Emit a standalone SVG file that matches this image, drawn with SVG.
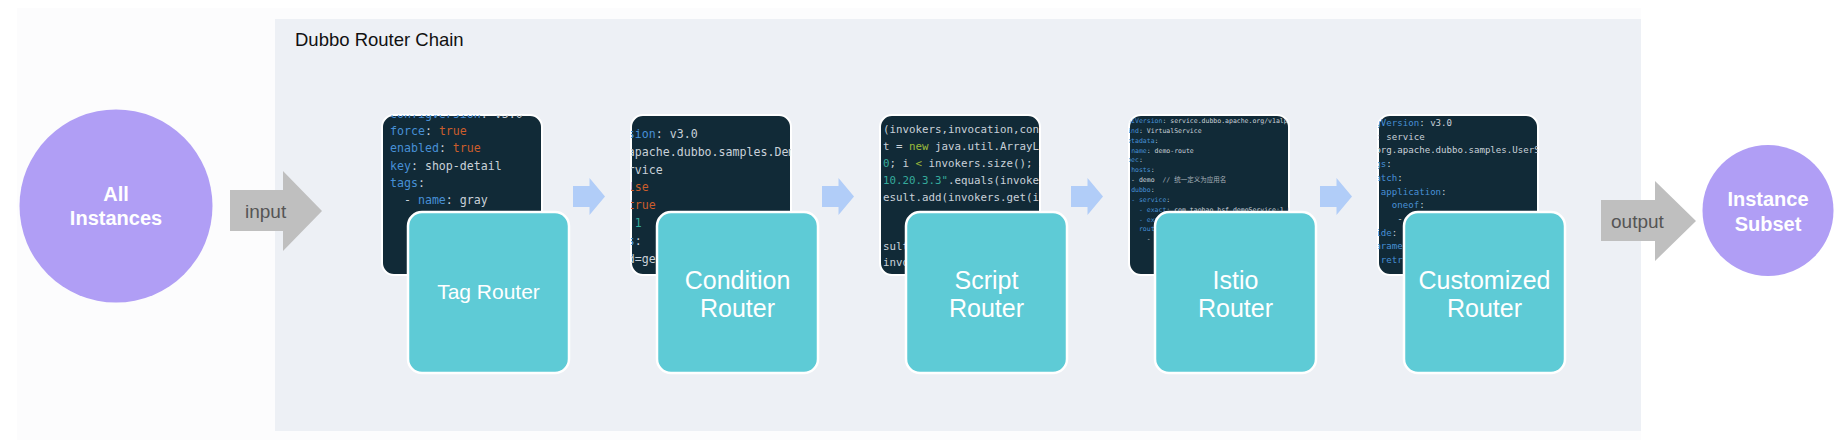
<svg xmlns="http://www.w3.org/2000/svg" width="1834" height="446" viewBox="0 0 1834 446">
<style>
.code{font-family:"DejaVu Sans Mono","Noto Sans CJK SC",monospace;fill:#c9d1d9}
.code text{white-space:pre}
.k{fill:#4790d6}.v{fill:#c9d1d9}.o{fill:#cb5d2c}.n{fill:#35ab9c}.g{fill:#9cba3a}.c{fill:#a7b0b8}
.panel{fill:#112a37;stroke:#ffffff;stroke-width:2}
.box{fill:#5ecbd6;stroke:#ffffff;stroke-width:2.5}
.blab{font-family:"Liberation Sans",Arial,sans-serif;fill:#ffffff;text-anchor:middle}
.clab{font-family:"Liberation Sans",Arial,sans-serif;fill:#ffffff;text-anchor:middle;font-weight:bold;font-size:20px}
.circ{fill:#b09ef5}
.big{fill:#bfbfbf}
.small{fill:#b1cdf8}
.alab{font-family:"Liberation Sans",Arial,sans-serif;fill:#555555;font-size:19px}
</style>
<defs>
<clipPath id="c1"><rect x="382" y="115" width="160" height="160" rx="12"/></clipPath>
<clipPath id="c2"><rect x="631" y="115" width="160" height="160" rx="12"/></clipPath>
<clipPath id="c3"><rect x="880" y="115" width="160" height="160" rx="12"/></clipPath>
<clipPath id="c4"><rect x="1129" y="115" width="160" height="160" rx="12"/></clipPath>
<clipPath id="c5"><rect x="1378" y="115" width="160" height="160" rx="12"/></clipPath>
</defs>
<rect x="17" y="8" width="1624" height="432" fill="#fcfcfd"/>
<g id="router-chain">
<rect x="275" y="19" width="1366" height="412" fill="#edf0f5"/>
<text x="295" y="46" font-family="'Liberation Sans',Arial,sans-serif" font-size="18.5" fill="#111111">Dubbo Router Chain</text>
</g>
<g id="all-instances">
<circle class="circ" cx="116" cy="206" r="96.5"/>
<text class="clab" x="116" y="201">All</text>
<text class="clab" x="116" y="225">Instances</text>
</g>
<g id="instance-subset">
<circle class="circ" cx="1768" cy="210.5" r="65.5"/>
<text class="clab" x="1768" y="206">Instance</text>
<text class="clab" x="1768" y="231">Subset</text>
</g>
<g id="tag-router">
<rect class="panel" x="382" y="115" width="160" height="160" rx="12"/>
<g clip-path="url(#c1)" class="code" font-size="11.6">
<text xml:space="preserve" x="390" y="117.7"><tspan class="k">configVersion</tspan>: v3.0</text>
<text xml:space="preserve" x="390" y="135"><tspan class="k">force</tspan>: <tspan class="o">true</tspan></text>
<text xml:space="preserve" x="390" y="152.3"><tspan class="k">enabled</tspan>: <tspan class="o">true</tspan></text>
<text xml:space="preserve" x="390" y="169.6"><tspan class="k">key</tspan>: shop-detail</text>
<text xml:space="preserve" x="390" y="186.9"><tspan class="k">tags</tspan>:</text>
<text xml:space="preserve" x="390" y="204.2">  - <tspan class="k">name</tspan>: gray</text>
</g>
<rect class="box" x="408" y="212" width="161" height="161" rx="14"/>
<text class="blab" x="488.5" y="299" font-size="21">Tag Router</text>
</g>
<g id="condition-router">
<rect class="panel" x="631" y="115" width="160" height="160" rx="12"/>
<g clip-path="url(#c2)" class="code" font-size="11.6">
<text xml:space="preserve" x="565" y="138"><tspan class="k">configVersion</tspan>: v3.0</text>
<text xml:space="preserve" x="565" y="155.8"><tspan class="k">key</tspan>: org.apache.dubbo.samples.DemoSe</text>
<text xml:space="preserve" x="565" y="173.6"><tspan class="k">scope</tspan>: service</text>
<text xml:space="preserve" x="565" y="191.4"><tspan class="k">force</tspan>: <tspan class="o">false</tspan></text>
<text xml:space="preserve" x="565" y="209.2"><tspan class="k">runtime</tspan>: <tspan class="o">true</tspan></text>
<text xml:space="preserve" x="565" y="227"><tspan class="k">priority</tspan>: <tspan class="n">1</tspan></text>
<text xml:space="preserve" x="565" y="244.8"><tspan class="k">conditions</tspan>:</text>
<text xml:space="preserve" x="565" y="262.6">  - method=getCom</text>
</g>
<rect class="box" x="657" y="212" width="161" height="161" rx="14"/>
<text class="blab" x="737.5" y="289" font-size="25">Condition</text>
<text class="blab" x="737.5" y="317" font-size="25">Router</text>
</g>
<g id="script-router">
<rect class="panel" x="880" y="115" width="160" height="160" rx="12"/>
<g clip-path="url(#c3)" class="code" font-size="10.8">
<text xml:space="preserve" x="883" y="133">(invokers,invocation,cont</text>
<text xml:space="preserve" x="883" y="150">t = <tspan class="g">new</tspan> java.util.ArrayLis</text>
<text xml:space="preserve" x="883" y="167"><tspan class="n">0</tspan>; i <tspan class="g">&lt;</tspan> invokers.size(); i</text>
<text xml:space="preserve" x="883" y="184"><tspan class="n">10.20.3.3"</tspan>.equals(invoker</text>
<text xml:space="preserve" x="883" y="201">esult.add(invokers.get(i)</text>
<text xml:space="preserve" x="883" y="250">sult;</text>
<text xml:space="preserve" x="883" y="266">invokers,</text>
</g>
<rect class="box" x="906" y="212" width="161" height="161" rx="14"/>
<text class="blab" x="986.5" y="289" font-size="25">Script</text>
<text class="blab" x="986.5" y="317" font-size="25">Router</text>
</g>
<g id="istio-router">
<rect class="panel" x="1129" y="115" width="160" height="160" rx="12"/>
<g clip-path="url(#c4)" class="code" font-size="6.5">
<text xml:space="preserve" x="1123.3" y="123"><tspan class="k">apiVersion</tspan>: service.dubbo.apache.org/v1alpha1</text>
<text xml:space="preserve" x="1123.3" y="132.9"><tspan class="k">kind</tspan>: VirtualService</text>
<text xml:space="preserve" x="1123.3" y="142.7"><tspan class="k">metadata</tspan>:</text>
<text xml:space="preserve" x="1123.3" y="152.6">  <tspan class="k">name</tspan>: demo-route</text>
<text xml:space="preserve" x="1123.3" y="162.4"><tspan class="k">spec</tspan>:</text>
<text xml:space="preserve" x="1123.3" y="172.3">  <tspan class="k">hosts</tspan>:</text>
<text xml:space="preserve" x="1123.3" y="182.1">  - demo  <tspan class="c">// 统一定义为应用名</tspan></text>
<text xml:space="preserve" x="1123.3" y="192">  <tspan class="k">dubbo</tspan>:</text>
<text xml:space="preserve" x="1123.3" y="201.8">  <tspan class="k">- service</tspan>:</text>
<text xml:space="preserve" x="1123.3" y="211.7">    <tspan class="k">- exact</tspan>: com.taobao.hsf.demoService:1.0.0</text>
<text xml:space="preserve" x="1123.3" y="221.5">    <tspan class="k">- exact</tspan>: com.taobao.hsf.demoService:2.0.0</text>
<text xml:space="preserve" x="1123.3" y="231.4">    <tspan class="k">routedetail</tspan>:</text>
<text xml:space="preserve" x="1123.3" y="241.2">      - <tspan class="k">name</tspan>: all</text>
</g>
<rect class="box" x="1155" y="212" width="161" height="161" rx="14"/>
<text class="blab" x="1235.5" y="289" font-size="25">Istio</text>
<text class="blab" x="1235.5" y="317" font-size="25">Router</text>
</g>
<g id="customized-router">
<rect class="panel" x="1378" y="115" width="160" height="160" rx="12"/>
<g clip-path="url(#c5)" class="code" font-size="9.1">
<text xml:space="preserve" x="1348" y="126"><tspan class="k">configVersion</tspan>: v3.0</text>
<text xml:space="preserve" x="1348" y="139.7"><tspan class="k">scope</tspan>: service</text>
<text xml:space="preserve" x="1348" y="153.4"><tspan class="k">key</tspan>: org.apache.dubbo.samples.UserSer</text>
<text xml:space="preserve" x="1348" y="167.1"><tspan class="k">configs</tspan>:</text>
<text xml:space="preserve" x="1348" y="180.8">  - <tspan class="k">match</tspan>:</text>
<text xml:space="preserve" x="1348" y="194.5">      <tspan class="k">application</tspan>:</text>
<text xml:space="preserve" x="1348" y="208.2">        <tspan class="k">oneof</tspan>:</text>
<text xml:space="preserve" x="1348" y="221.9">         - <tspan class="k">exact</tspan>: shop-frontend</text>
<text xml:space="preserve" x="1348" y="235.6">    <tspan class="k">side</tspan>: consumer</text>
<text xml:space="preserve" x="1348" y="249.3">    <tspan class="k">parameters</tspan>:</text>
<text xml:space="preserve" x="1348" y="263">      <tspan class="k">retries</tspan>: 4</text>
</g>
<rect class="box" x="1404" y="212" width="161" height="161" rx="14"/>
<text class="blab" x="1484.5" y="289" font-size="25">Customized</text>
<text class="blab" x="1484.5" y="317" font-size="25">Router</text>
</g>
<g id="connectors">
<path class="big" d="M230,190 H283 V171 L322,211 L283,251 V231 H230 Z"/>
<text class="alab" x="245" y="218">input</text>
<path class="small" d="M573,186 H589.5 V178 L605,196.5 L589.5,215 V207 H573 Z"/>
<path class="small" d="M822,186 H838.5 V178 L854,196.5 L838.5,215 V207 H822 Z"/>
<path class="small" d="M1071,186 H1087.5 V178 L1103,196.5 L1087.5,215 V207 H1071 Z"/>
<path class="small" d="M1320,186 H1336.5 V178 L1352,196.5 L1336.5,215 V207 H1320 Z"/>
<path class="big" d="M1601,200 H1655 V181 L1696,221 L1655,261 V241 H1601 Z"/>
<text class="alab" x="1611" y="228">output</text>
</g>
</svg>
